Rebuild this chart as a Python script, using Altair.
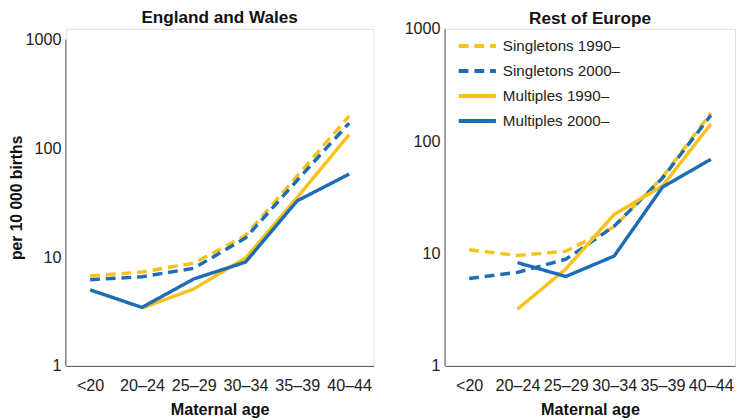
import altair as alt
import pandas as pd

ages = ["<20", "20–24", "25–29", "30–34", "35–39", "40–44"]
series = ["Singletons 1990–", "Singletons 2000–", "Multiples 1990–", "Multiples 2000–"]
colors = ["#F8C21C", "#1C6DB4", "#F8C21C", "#1C6DB4"]
dashes = [[10, 6], [10, 6], [1, 0], [1, 0]]

ew_sing_1990 = [6.7, 7.3, 8.8, 15.8, 56, 198]
ew_sing_2000 = [6.2, 6.6, 7.9, 15.0, 51, 171]
ew_mult_1990 = [None, 3.4, 5.1, 9.8, 35.5, 134]
ew_mult_2000 = [5.0, 3.45, 6.3, 9.0, 33, 58]

eu_sing_1990 = [10.8, 9.6, 10.5, 17.3, 48, 178]
eu_sing_2000 = [6.0, 6.8, 8.9, 17.5, 47, 170]
eu_mult_1990 = [None, 3.2, 7.3, 22.3, 40, 142]
eu_mult_2000 = [None, 8.3, 6.25, 9.5, 39, 69]


def frame(lists):
    rows = []
    for s, vals in zip(series, lists):
        for a, v in zip(ages, vals):
            if v is not None:
                rows.append({"age": a, "series": s, "value": v})
    return pd.DataFrame(rows)


ew = frame([ew_sing_1990, ew_sing_2000, ew_mult_1990, ew_mult_2000])
eu = frame([eu_sing_1990, eu_sing_2000, eu_mult_1990, eu_mult_2000])

FONT = "Liberation Sans"
AXIS_COLOR = "#555555"


def panel(df, title, width, height, ymax, xpad, show_ytitle, show_legend, title_offset):
    x = alt.X("age:N", sort=ages, scale=alt.Scale(type="point", padding=xpad),
              axis=alt.Axis(title="Maternal age", labelAngle=0, ticks=False,
                            domainColor=AXIS_COLOR, labelFontSize=16.5,
                            labelColor="#222222", titleFontSize=16.5,
                            titleFontWeight="bold", titleColor="#111111",
                            labelPadding=12, titlePadding=8, grid=False))
    y = alt.Y("value:Q", scale=alt.Scale(type="log", domain=[1, ymax], nice=False),
              axis=alt.Axis(title="per 10 000 births" if show_ytitle else None,
                            values=[1, 10, 100, 1000], format="d", ticks=False,
                            domain=False, gridColor="#9a9a9a",
                            labelFontSize=16.5, labelColor="#222222",
                            titleFontSize=16, titleFontWeight="bold",
                            titleColor="#111111", labelPadding=5, titlePadding=0))
    legend = None
    if show_legend:
        legend = alt.Legend(title=None, orient="none", legendX=21.5, legendY=6,
                            symbolType="M-2,0H2", symbolSize=361,
                            symbolStrokeWidth=4, labelFontSize=15.5,
                            labelColor="#222222", rowPadding=5.5, labelOffset=14.5,
                            labelFont=FONT)
    color = alt.Color("series:N", sort=series,
                      scale=alt.Scale(domain=series, range=colors), legend=legend)
    dash = alt.StrokeDash("series:N", sort=series,
                          scale=alt.Scale(domain=series, range=dashes), legend=legend)
    lines = alt.Chart(df).mark_line(strokeWidth=3.5).encode(
        x=x, y=y, color=color, strokeDash=dash, detail="series:N"
    )
    axis_line = alt.Chart(pd.DataFrame({"a": [0]})).mark_rule(
        color=AXIS_COLOR, strokeWidth=1
    ).encode(x=alt.value(0), y=alt.datum(1), y2=alt.datum(1000))
    return alt.layer(axis_line, lines).properties(
        width=width, height=height,
        title=alt.Title(title, fontSize=17.5, fontWeight="bold", font=FONT,
                        color="#111111", offset=title_offset, dy=-7)
    )


left = panel(ew, "England and Wales", 314, 344, 1256, 0.47, True, False, -5)
right = panel(eu, "Rest of Europe", 296, 344, 1000, 0.5, False, True, -13.5)

chart = alt.hconcat(left, right, spacing=29).resolve_scale(
    color="independent", strokeDash="independent"
).resolve_legend(color="independent", strokeDash="independent").properties(
    padding={"left": 0, "top": -3, "right": 0, "bottom": 0}
).configure_view(
    stroke=None
).configure(font=FONT).configure_axis(labelFont=FONT, titleFont=FONT)

chart.save("out.html", embed_options={"renderer": "svg", "actions": False})
